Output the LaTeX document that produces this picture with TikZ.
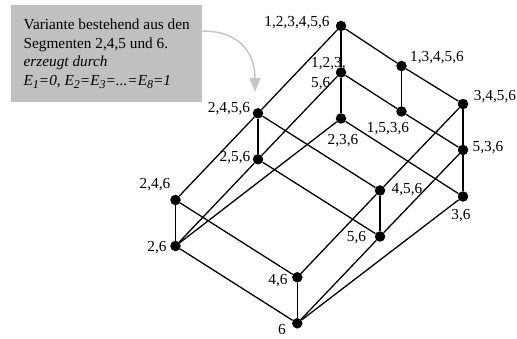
\documentclass[tikz,border=0pt]{standalone}
\usepackage{fontspec}
\setmainfont{Liberation Serif}
\usetikzlibrary{arrows.meta}
\definecolor{boxgray}{HTML}{C0C0C0}
\definecolor{pointgray}{HTML}{C6C6C6}
\newcommand{\lbl}{\fontsize{15.3}{18.5}\selectfont}
\newcommand{\ix}[1]{\raisebox{-3pt}{\fontsize{12}{12}\selectfont #1}}

\tikzset{
  elem/.style={circle,fill=black,inner sep=0pt,minimum size=10.5pt},
  tag/.style={inner sep=0pt,anchor=mid,font=\lbl},
  edge/.style={black,line width=1.3pt},
  pointer/.style={pointgray,line width=1.5pt,-{Triangle[length=14pt,width=11pt]}}
}

\begin{document}
\begin{tikzpicture}[x=1pt,y=-1pt]
  \useasboundingbox (0,0) rectangle (517,339);

  % Elements of the lattice
  \node[elem] (A) at (341,26) {};
  \node[elem] (B) at (401.5,66) {};
  \node[elem] (C) at (463,104) {};
  \node[elem] (D) at (341,72.5) {};
  \node[elem] (E) at (401.5,111.5) {};
  \node[elem] (F) at (463,150) {};
  \node[elem] (G) at (341,118.5) {};
  \node[elem] (H) at (463,196.5) {};
  \node[elem] (I) at (258,113.3) {};
  \node[elem] (J) at (258,159.3) {};
  \node[elem] (K) at (380,190.5) {};
  \node[elem] (L) at (380,236.5) {};
  \node[elem] (M) at (175.5,200) {};
  \node[elem] (N) at (175.5,246) {};
  \node[elem] (O) at (297.3,277.3) {};
  \node[elem] (P) at (297.3,323.3) {};

  % Labels
  \node[tag] (lA) at (297,24.5) {1,2,3,4,5,6};
  \node[tag] (lB) at (437,59.5) {1,3,4,5,6};
  \node[tag] (lC) at (495,98.5) {3,4,5,6};
  \node[tag,anchor=west,align=left] (lD) at (311,73.5) {1,2,3,\\[1.5pt]5,6};
  \node[tag] (lE) at (388,130) {1,5,3,6};
  \node[tag] (lF) at (488,149.5) {5,3,6};
  \node[tag] (lG) at (343,142.5) {2,3,6};
  \node[tag] (lH) at (461,217.5) {3,6};
  \node[tag] (lI) at (229,110) {2,4,5,6};
  \node[tag] (lJ) at (235,159.5) {2,5,6};
  \node[tag] (lK) at (407,191.5) {4,5,6};
  \node[tag] (lL) at (356.5,239.5) {5,6};
  \node[tag] (lM) at (155,186.5) {2,4,6};
  \node[tag] (lN) at (157,249.5) {2,6};
  \node[tag] (lO) at (278,282.5) {4,6};
  \node[tag] (lP) at (282,332.5) {6};

  % Edges
  \draw[edge] (A) -- (B) -- (C);
  \draw[edge] (D) -- (E) -- (F);
  \draw[edge] (G) -- (H);
  \draw[edge] (I) -- (K);
  \draw[edge] (J) -- (L);
  \draw[edge] (M) -- (O);
  \draw[edge] (N) -- (P);
  \draw[edge] (A) -- (D) -- (G);
  \draw[edge] (B) -- (E);
  \draw[edge] (C) -- (F) -- (H);
  \draw[edge] (I) -- (J);
  \draw[edge] (K) -- (L);
  \draw[edge] (M) -- (N);
  \draw[edge] (O) -- (P);
  \draw[edge] (A) -- (I) -- (M);
  \draw[edge] (D) -- (J) -- (N);
  \draw[edge] (C) -- (K) -- (O);
  \draw[edge] (F) -- (L) -- (P);
  \draw[edge] (G) -- (N);
  \draw[edge] (H) -- (P);

  % Note box
  \node[fill=boxgray,anchor=north west,minimum width=191pt,minimum height=97pt,
        inner sep=0pt,align=left,font=\lbl] (box) at (11,5)
    {Variante bestehend aus den\\
     Segmenten 2,4,5 und 6.\\
     \textit{erzeugt durch}\\
     \textit{E\ix{1}=0, E\ix{2}=E\ix{3}=...=E\ix{8}=1}};
  \coordinate (tipend) at (255,92);
  \draw[pointer] ([yshift=-26pt]box.north east) .. controls +(38,0) and +(0,-38) .. (tipend);
\end{tikzpicture}
\end{document}
